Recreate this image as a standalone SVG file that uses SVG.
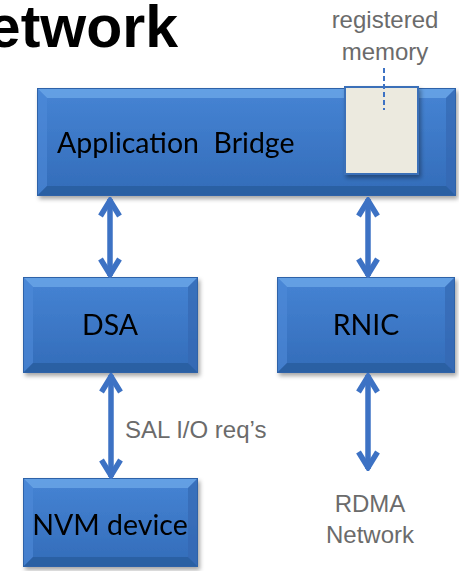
<svg xmlns="http://www.w3.org/2000/svg" width="459" height="571" viewBox="0 0 459 571">
  <defs>
    <linearGradient id="faceGrad" x1="0" y1="0" x2="0" y2="1">
      <stop offset="0" stop-color="#4684d4"/>
      <stop offset="1" stop-color="#336cb9"/>
    </linearGradient>
    <filter id="shadow" x="-10%" y="-10%" width="125%" height="135%">
      <feDropShadow dx="2" dy="3" stdDeviation="2.2" flood-color="#000" flood-opacity="0.35"/>
    </filter>
    <marker id="head" viewBox="-20 -12 22 24" refX="0" refY="0" markerWidth="22" markerHeight="24" markerUnits="userSpaceOnUse" orient="auto-start-reverse">
      <path d="M-17,-9.5 L-1.5,0 L-17,9.5" fill="none" stroke="#3d72c4" stroke-width="5.5" stroke-linejoin="miter"/>
    </marker>
  </defs>
  <style>
    .edge { fill: #2f62a8; }
    .face { fill: url(#faceGrad); }
    .bevT { fill: #6aa4e6; opacity: 0.85; }
    .bevL { fill: #4f8bd8; }
    .bevR { fill: #3468b2; }
    .bevB { fill: #2b5c9e; }
    .lbl { font-family: Lato, "Open Sans", sans-serif; fill: #000; font-size: 28.5px; }
    .note { font-family: "Liberation Sans", Arial, sans-serif; fill: #6b6b6b; font-size: 24px; }
    .conn { stroke: #3d72c4; stroke-width: 5.5; fill: none; marker-start: url(#head); marker-end: url(#head); }
  </style>

  <!-- heading, running off the left edge -->
  <text x="178" y="47" text-anchor="end" font-family="Liberation Sans, Arial, sans-serif" font-weight="bold" font-size="59" fill="#000">Network</text>

  <!-- Application Bridge -->
  <g id="app-bridge" filter="url(#shadow)">
    <rect class="edge" x="37" y="88" width="419" height="108"/>
    <rect class="face" x="38" y="89" width="417" height="106"/>
    <polygon class="bevT" points="38,89 455,89 446,98 47,98"/>
    <polygon class="bevL" points="38,89 47,98 47,186 38,195" opacity="0.6"/>
    <polygon class="bevR" points="455,89 446,98 446,186 455,195" opacity="0.7"/>
    <polygon class="bevB" points="38,195 47,186 446,186 455,195" opacity="0.8"/>
    <text class="lbl" x="57" y="153" xml:space="preserve">Application  Bridge</text>
  </g>

  <!-- registered memory region -->
  <g id="reg-memory">
    <rect x="345" y="87" width="73" height="87" fill="#eceadf" stroke="#3a70b8" stroke-width="2" filter="url(#shadow)"/>
    <line x1="384" y1="68" x2="384" y2="110" stroke="#3d72c4" stroke-width="2" stroke-dasharray="5,3"/>
    <text class="note" x="385" y="28" text-anchor="middle">registered</text>
    <text class="note" x="385" y="60" text-anchor="middle">memory</text>
  </g>

  <!-- DSA -->
  <g id="dsa" filter="url(#shadow)">
    <rect class="edge" x="23" y="277" width="175" height="96"/>
    <rect class="face" x="24" y="278" width="173" height="94"/>
    <polygon class="bevT" points="24,278 197,278 188,287 33,287"/>
    <polygon class="bevL" points="24,278 33,287 33,363 24,372" opacity="0.6"/>
    <polygon class="bevR" points="197,278 188,287 188,363 197,372" opacity="0.7"/>
    <polygon class="bevB" points="24,372 33,363 188,363 197,372" opacity="0.8"/>
    <text class="lbl" x="110" y="335" text-anchor="middle">DSA</text>
  </g>

  <!-- RNIC -->
  <g id="rnic" filter="url(#shadow)">
    <rect class="edge" x="277" y="277" width="178" height="96"/>
    <rect class="face" x="278" y="278" width="176" height="94"/>
    <polygon class="bevT" points="278,278 454,278 445,287 287,287"/>
    <polygon class="bevL" points="278,278 287,287 287,363 278,372" opacity="0.6"/>
    <polygon class="bevR" points="454,278 445,287 445,363 454,372" opacity="0.7"/>
    <polygon class="bevB" points="278,372 287,363 445,363 454,372" opacity="0.8"/>
    <text class="lbl" x="366" y="335" text-anchor="middle">RNIC</text>
  </g>

  <!-- NVM device -->
  <g id="nvm" filter="url(#shadow)">
    <rect class="edge" x="23" y="478" width="175" height="89"/>
    <rect class="face" x="24" y="479" width="173" height="87"/>
    <polygon class="bevT" points="24,479 197,479 188,488 33,488"/>
    <polygon class="bevL" points="24,479 33,488 33,557 24,566" opacity="0.6"/>
    <polygon class="bevR" points="197,479 188,488 188,557 197,566" opacity="0.7"/>
    <polygon class="bevB" points="24,566 33,557 188,557 197,566" opacity="0.8"/>
    <text class="lbl" x="110" y="535" text-anchor="middle">NVM device</text>
  </g>

  <!-- external network label -->
  <g id="rdma-net">
    <text class="note" x="370" y="512" text-anchor="middle">RDMA</text>
    <text class="note" x="370" y="543" text-anchor="middle">Network</text>
  </g>

  <!-- connectors -->
  <g id="connectors">
    <line class="conn" x1="110" y1="199" x2="110" y2="276"/>
    <line class="conn" x1="368" y1="199" x2="368" y2="276"/>
    <line class="conn" x1="111" y1="375" x2="111" y2="477"/>
    <line class="conn" x1="368" y1="375" x2="368" y2="469"/>
    <text class="note" x="125" y="438">SAL I/O req’s</text>
  </g>
</svg>
